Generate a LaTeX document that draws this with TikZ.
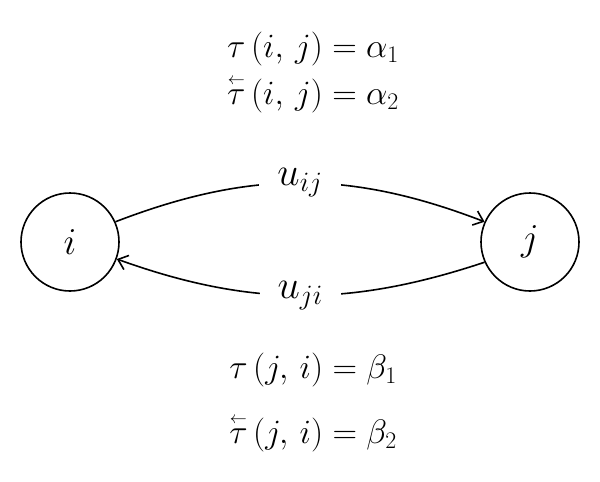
\documentclass[tikz,border=0pt]{standalone}
\usepackage{fix-cm}
\usepackage{amsmath}
\usetikzlibrary{arrows.meta}
\newcommand{\bt}{\overset{\scriptscriptstyle\leftarrow}{\tau}}
\begin{document}
\begin{tikzpicture}[x=1pt,y=-1pt,
  state/.style={draw,circle,line width=1.6pt,minimum size=98pt,inner sep=0pt,font=\fontsize{38}{44}\selectfont},
  eq/.style={anchor=base,inner sep=0pt,font=\fontsize{34}{40}\selectfont},
  lab/.style={fill=white,inner xsep=18pt,inner ysep=2pt,font=\fontsize{40}{46}\selectfont},
  edge/.style={line width=1.6pt,-{Straight Barb[length=9pt,width=15pt,line width=1.6pt]}}]
\useasboundingbox (0,0) rectangle (600,482);
\node[state] (i) at (70,242) {$i$};
\node[state] (j) at (530,242) {$j$};
\node[eq] (e1) at (313,57) {$\tau\,(i,\,j)=\alpha_1$};
\node[eq] (e2) at (313,104) {$\bt\,(i,\,j)=\alpha_2$};
\node[eq] (e3) at (313,378) {$\tau\,(j,\,i)=\beta_1$};
\node[eq] (e4) at (313,443) {$\bt\,(j,\,i)=\beta_2$};
\draw[edge] (i.24) .. controls (250,170) and (350,170) .. node[lab,pos=0.5] (uij) {$u_{ij}$} (j.156);
\draw[edge] (j.204) .. controls (350,307) and (250,307) .. node[lab,pos=0.5] (uji) {$u_{ji}$} (i.-20);
\end{tikzpicture}
\end{document}
